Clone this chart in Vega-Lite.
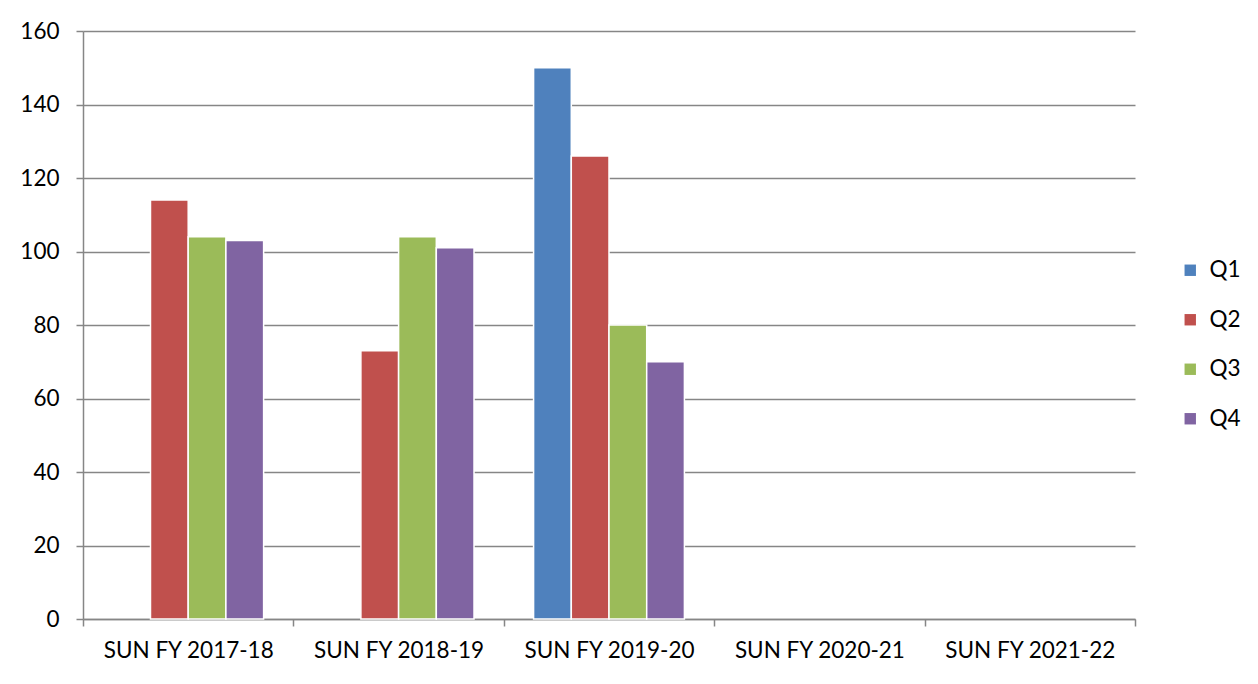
{
  "$schema": "https://vega.github.io/schema/vega-lite/v6.json",
  "width": 1052,
  "height": 588,
  "autosize": {"type": "none"},
  "padding": {"left": 83, "top": 31, "right": 123, "bottom": 65},
  "background": "white",
  "data": {
    "values": [
      {"year": "SUN FY 2017-18", "quarter": "Q2", "value": 114},
      {"year": "SUN FY 2017-18", "quarter": "Q3", "value": 104},
      {"year": "SUN FY 2017-18", "quarter": "Q4", "value": 103},
      {"year": "SUN FY 2018-19", "quarter": "Q2", "value": 73},
      {"year": "SUN FY 2018-19", "quarter": "Q3", "value": 104},
      {"year": "SUN FY 2018-19", "quarter": "Q4", "value": 101},
      {"year": "SUN FY 2019-20", "quarter": "Q1", "value": 150},
      {"year": "SUN FY 2019-20", "quarter": "Q2", "value": 126},
      {"year": "SUN FY 2019-20", "quarter": "Q3", "value": 80},
      {"year": "SUN FY 2019-20", "quarter": "Q4", "value": 70}
    ]
  },
  "mark": {"type": "bar", "stroke": "white", "strokeWidth": 1.5},
  "encoding": {
    "x": {
      "field": "year",
      "type": "nominal",
      "title": null,
      "scale": {
        "domain": ["SUN FY 2017-18", "SUN FY 2018-19", "SUN FY 2019-20", "SUN FY 2020-21", "SUN FY 2021-22"],
        "paddingInner": 0,
        "paddingOuter": 0
      },
      "axis": {
        "labelAngle": 0,
        "tickBand": "extent",
        "tickSize": 7,
        "labelPadding": 13,
        "domainColor": "#868686",
        "tickColor": "#868686",
        "domainWidth": 1.5,
        "tickWidth": 1.5
      }
    },
    "xOffset": {
      "field": "quarter",
      "type": "nominal",
      "scale": {"domain": ["Q1", "Q2", "Q3", "Q4"], "paddingInner": 0, "paddingOuter": 0.79}
    },
    "y": {
      "field": "value",
      "type": "quantitative",
      "title": null,
      "scale": {"domain": [0, 160], "nice": false},
      "axis": {
        "values": [0, 20, 40, 60, 80, 100, 120, 140, 160],
        "tickSize": 7,
        "labelPadding": 17,
        "domainColor": "#868686",
        "tickColor": "#868686",
        "gridColor": "#868686",
        "domainWidth": 1.5,
        "tickWidth": 1.5,
        "gridWidth": 1.5
      }
    },
    "color": {
      "field": "quarter",
      "type": "nominal",
      "title": null,
      "scale": {"domain": ["Q1", "Q2", "Q3", "Q4"], "range": ["#4F81BD", "#C0504D", "#9BBB59", "#8064A2"]},
      "legend": {
        "orient": "none",
        "legendX": 1096,
        "legendY": 228,
        "symbolType": "square",
        "symbolSize": 130,
        "symbolStrokeWidth": 0,
        "rowPadding": 26.5,
        "labelFontSize": 22.5,
        "labelFont": "Lato",
        "labelColor": "black",
        "labelOffset": 8
      }
    }
  },
  "config": {
    "view": {"stroke": null},
    "axis": {"labelFont": "Lato", "labelFontSize": 22.5, "labelColor": "black", "grid": false},
    "axisY": {"grid": true},
    "axisX": {"grid": false}
  }
}
